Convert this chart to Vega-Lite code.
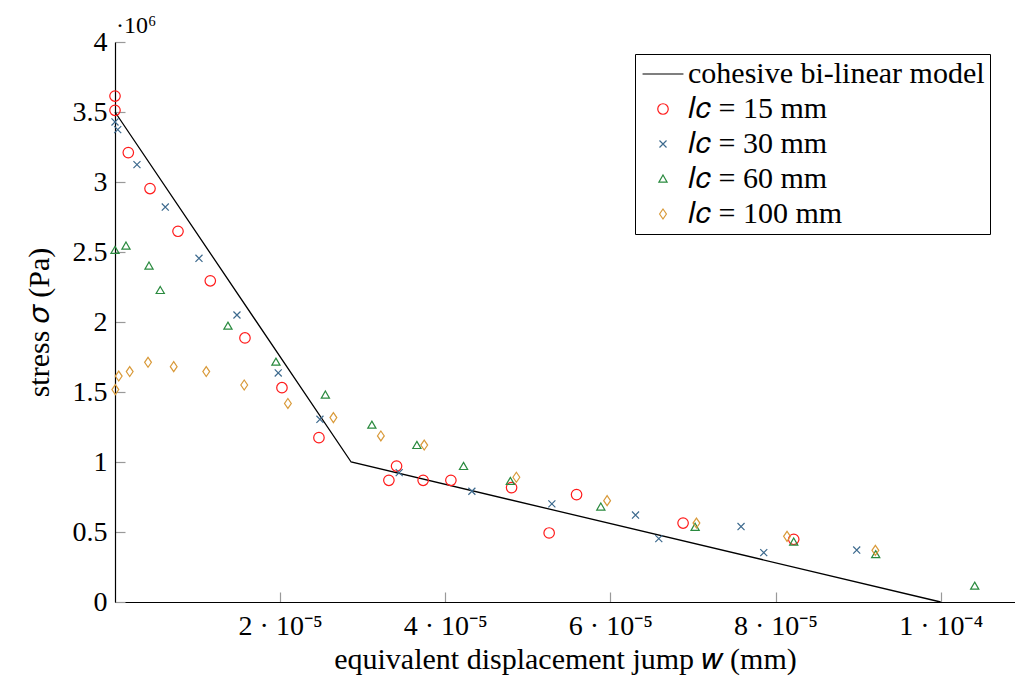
{
  "$schema": "https://vega.github.io/schema/vega-lite/v6.json",
  "width": 900,
  "height": 560,
  "autosize": "none",
  "padding": {"left": 115, "top": 42, "right": 0, "bottom": 75},
  "background": "white",
  "config": {
    "view": {"stroke": null},
    "axis": {"labelFont": "Liberation Serif", "labelFontSize": 28, "labelColor": "black", "titleFont": "Liberation Serif", "titleFontSize": 30, "titleFontWeight": "normal", "titleColor": "black", "domainColor": "black", "domainWidth": 1.2, "tickColor": "#999999", "tickWidth": 1.2, "tickSize": -10, "grid": false}
  },
  "datasets": {
    "model": [
      {"series": "cohesive bi-linear model", "w": 0, "sigma": 3500000},
      {"series": "cohesive bi-linear model", "w": 2.86e-5, "sigma": 1000000},
      {"series": "cohesive bi-linear model", "w": 1.0e-4, "sigma": 0}
    ],
    "scalenote": [
      {"w": 0, "sigma": 4000000, "note": "·10⁶"}
    ],
    "pts": [
      {"series": "𝑙𝑐 = 15 mm", "w": 0, "sigma": 3614000},
      {"series": "𝑙𝑐 = 15 mm", "w": 0, "sigma": 3512000},
      {"series": "𝑙𝑐 = 15 mm", "w": 1.61e-6, "sigma": 3210000},
      {"series": "𝑙𝑐 = 15 mm", "w": 4.24e-6, "sigma": 2953000},
      {"series": "𝑙𝑐 = 15 mm", "w": 7.63e-6, "sigma": 2648000},
      {"series": "𝑙𝑐 = 15 mm", "w": 1.154e-5, "sigma": 2294000},
      {"series": "𝑙𝑐 = 15 mm", "w": 1.574e-5, "sigma": 1886000},
      {"series": "𝑙𝑐 = 15 mm", "w": 2.022e-5, "sigma": 1531000},
      {"series": "𝑙𝑐 = 15 mm", "w": 2.470e-5, "sigma": 1174000},
      {"series": "𝑙𝑐 = 15 mm", "w": 3.317e-5, "sigma": 869000},
      {"series": "𝑙𝑐 = 15 mm", "w": 3.410e-5, "sigma": 971000},
      {"series": "𝑙𝑐 = 15 mm", "w": 3.732e-5, "sigma": 869000},
      {"series": "𝑙𝑐 = 15 mm", "w": 4.068e-5, "sigma": 869000},
      {"series": "𝑙𝑐 = 15 mm", "w": 4.803e-5, "sigma": 817000},
      {"series": "𝑙𝑐 = 15 mm", "w": 5.258e-5, "sigma": 493000},
      {"series": "𝑙𝑐 = 15 mm", "w": 5.590e-5, "sigma": 767000},
      {"series": "𝑙𝑐 = 15 mm", "w": 6.880e-5, "sigma": 564000},
      {"series": "𝑙𝑐 = 15 mm", "w": 8.220e-5, "sigma": 448000},
      {"series": "𝑙𝑐 = 30 mm", "w": 0, "sigma": 3429000},
      {"series": "𝑙𝑐 = 30 mm", "w": 3.3e-7, "sigma": 3374000},
      {"series": "𝑙𝑐 = 30 mm", "w": 2.66e-6, "sigma": 3124000},
      {"series": "𝑙𝑐 = 30 mm", "w": 6.09e-6, "sigma": 2821000},
      {"series": "𝑙𝑐 = 30 mm", "w": 1.017e-5, "sigma": 2455000},
      {"series": "𝑙𝑐 = 30 mm", "w": 1.477e-5, "sigma": 2050000},
      {"series": "𝑙𝑐 = 30 mm", "w": 1.977e-5, "sigma": 1636000},
      {"series": "𝑙𝑐 = 30 mm", "w": 2.482e-5, "sigma": 1305000},
      {"series": "𝑙𝑐 = 30 mm", "w": 3.442e-5, "sigma": 924000},
      {"series": "𝑙𝑐 = 30 mm", "w": 4.322e-5, "sigma": 791000},
      {"series": "𝑙𝑐 = 30 mm", "w": 5.291e-5, "sigma": 701000},
      {"series": "𝑙𝑐 = 30 mm", "w": 6.304e-5, "sigma": 621000},
      {"series": "𝑙𝑐 = 30 mm", "w": 6.586e-5, "sigma": 453000},
      {"series": "𝑙𝑐 = 30 mm", "w": 7.582e-5, "sigma": 539000},
      {"series": "𝑙𝑐 = 30 mm", "w": 7.857e-5, "sigma": 353000},
      {"series": "𝑙𝑐 = 30 mm", "w": 8.983e-5, "sigma": 371000},
      {"series": "𝑙𝑐 = 60 mm", "w": 0, "sigma": 2512000},
      {"series": "𝑙𝑐 = 60 mm", "w": 1.33e-6, "sigma": 2543000},
      {"series": "𝑙𝑐 = 60 mm", "w": 4.12e-6, "sigma": 2400000},
      {"series": "𝑙𝑐 = 60 mm", "w": 5.48e-6, "sigma": 2226000},
      {"series": "𝑙𝑐 = 60 mm", "w": 1.368e-5, "sigma": 1971000},
      {"series": "𝑙𝑐 = 60 mm", "w": 1.949e-5, "sigma": 1714000},
      {"series": "𝑙𝑐 = 60 mm", "w": 2.548e-5, "sigma": 1479000},
      {"series": "𝑙𝑐 = 60 mm", "w": 3.111e-5, "sigma": 1264000},
      {"series": "𝑙𝑐 = 60 mm", "w": 3.656e-5, "sigma": 1119000},
      {"series": "𝑙𝑐 = 60 mm", "w": 4.221e-5, "sigma": 969000},
      {"series": "𝑙𝑐 = 60 mm", "w": 4.788e-5, "sigma": 862000},
      {"series": "𝑙𝑐 = 60 mm", "w": 5.884e-5, "sigma": 679000},
      {"series": "𝑙𝑐 = 60 mm", "w": 7.026e-5, "sigma": 534000},
      {"series": "𝑙𝑐 = 60 mm", "w": 8.220e-5, "sigma": 429000},
      {"series": "𝑙𝑐 = 60 mm", "w": 9.213e-5, "sigma": 339000},
      {"series": "𝑙𝑐 = 60 mm", "w": 1.0412e-4, "sigma": 114000},
      {"series": "𝑙𝑐 = 100 mm", "w": 4e-8, "sigma": 1517000},
      {"series": "𝑙𝑐 = 100 mm", "w": 4.5e-7, "sigma": 1614000},
      {"series": "𝑙𝑐 = 100 mm", "w": 1.78e-6, "sigma": 1646000},
      {"series": "𝑙𝑐 = 100 mm", "w": 4.00e-6, "sigma": 1712000},
      {"series": "𝑙𝑐 = 100 mm", "w": 7.11e-6, "sigma": 1681000},
      {"series": "𝑙𝑐 = 100 mm", "w": 1.105e-5, "sigma": 1646000},
      {"series": "𝑙𝑐 = 100 mm", "w": 1.565e-5, "sigma": 1550000},
      {"series": "𝑙𝑐 = 100 mm", "w": 2.094e-5, "sigma": 1418000},
      {"series": "𝑙𝑐 = 100 mm", "w": 2.645e-5, "sigma": 1317000},
      {"series": "𝑙𝑐 = 100 mm", "w": 3.220e-5, "sigma": 1186000},
      {"series": "𝑙𝑐 = 100 mm", "w": 3.745e-5, "sigma": 1121000},
      {"series": "𝑙𝑐 = 100 mm", "w": 4.861e-5, "sigma": 891000},
      {"series": "𝑙𝑐 = 100 mm", "w": 5.960e-5, "sigma": 724000},
      {"series": "𝑙𝑐 = 100 mm", "w": 7.042e-5, "sigma": 564000},
      {"series": "𝑙𝑐 = 100 mm", "w": 8.139e-5, "sigma": 469000},
      {"series": "𝑙𝑐 = 100 mm", "w": 9.209e-5, "sigma": 369000}
    ]
  },
  "encoding": {
    "x": {"field": "w", "type": "quantitative", "scale": {"domain": [0, 1.09e-4], "nice": false, "zero": false},
      "axis": {"values": [2e-5, 4e-5, 6e-5, 8e-5, 1e-4], "labelExpr": "round(datum.value*1e5) == 10 ? '1 · 10⁻⁴' : round(datum.value*1e5) + ' · 10⁻⁵'", "labelPadding": 20, "title": "equivalent displacement jump 𝑤 (mm)", "titleX": 450, "titleY": 66, "titleBaseline": "alphabetic", "labelFlush": false}},
    "y": {"field": "sigma", "type": "quantitative", "scale": {"domain": [0, 4000000], "nice": false},
      "axis": {"values": [0, 500000, 1000000, 1500000, 2000000, 2500000, 3000000, 3500000, 4000000], "labelExpr": "format(datum.value/1e6, '~g')", "labelPadding": 18, "title": "stress 𝜎 (Pa)", "titleX": -76, "titleY": 280, "titleAngle": -90, "titleBaseline": "middle", "titleAlign": "center", "labelFlush": false}}
  },
  "layer": [
    {"data": {"name": "model"}, "mark": {"type": "line", "strokeWidth": 1.3, "clip": false},
      "encoding": {"color": {"field": "series", "type": "nominal",
        "scale": {"domain": ["cohesive bi-linear model", "𝑙𝑐 = 15 mm", "𝑙𝑐 = 30 mm", "𝑙𝑐 = 60 mm", "𝑙𝑐 = 100 mm"], "range": ["black", "#ff1a1a", "#3d6a8e", "#2a8a3f", "#d99a3a"]},
        "legend": {"title": null, "orient": "none", "legendX": 520, "legendY": 12, "strokeColor": "black", "fillColor": "white", "padding": 5, "labelFont": "Liberation Serif", "labelFontSize": 30, "labelColor": "black", "labelOffset": 10, "symbolOffset": 8, "rowPadding": 5, "symbolSize": 110, "symbolStrokeWidth": 1.2, "labelLimit": 500}}}},
    {"data": {"name": "pts"}, "mark": {"type": "point", "filled": false, "size": 110, "strokeWidth": 1.2, "opacity": 1},
      "encoding": {
        "color": {"field": "series", "type": "nominal",
          "scale": {"domain": ["cohesive bi-linear model", "𝑙𝑐 = 15 mm", "𝑙𝑐 = 30 mm", "𝑙𝑐 = 60 mm", "𝑙𝑐 = 100 mm"], "range": ["black", "#ff1a1a", "#3d6a8e", "#2a8a3f", "#d99a3a"]},
          "legend": {"title": null}},
        "shape": {"field": "series", "type": "nominal",
          "scale": {"domain": ["cohesive bi-linear model", "𝑙𝑐 = 15 mm", "𝑙𝑐 = 30 mm", "𝑙𝑐 = 60 mm", "𝑙𝑐 = 100 mm"], "range": ["M-3.9,0L3.9,0", "circle", "M-0.67,-0.67L0.67,0.67M-0.67,0.67L0.67,-0.67", "M0,-0.75L0.78,0.6L-0.78,0.6Z", "M0,-0.95L0.65,0L0,0.95L-0.65,0Z"]},
          "legend": {"title": null}}}},
    {"data": {"name": "scalenote"}, "mark": {"type": "text", "align": "left", "baseline": "alphabetic", "dx": 1, "dy": -9, "font": "Liberation Serif", "fill": "black", "clip": false},
      "encoding": {"text": {"field": "note", "type": "nominal"}, "size": {"value": 24}}}
  ]
}
